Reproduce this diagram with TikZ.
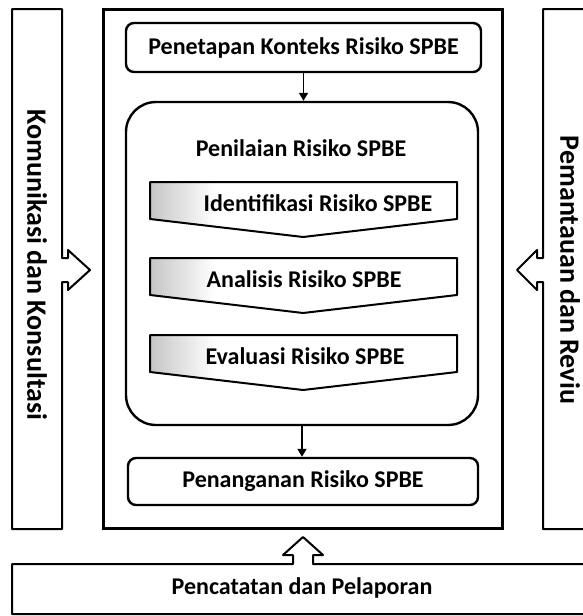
\documentclass[tikz,border=0pt]{standalone}
\usepackage{fontspec}
\setmainfont{Carlito}
\usetikzlibrary{arrows.meta}
\tikzset{
  sidebox/.style={draw, line width=2pt, line join=round, fill=white},
  mainbox/.style={draw, line width=3pt, inner sep=0pt},
  rbox/.style={draw, line width=2.4pt, rounded corners=8pt, inner sep=0pt},
  chev/.style={draw, line width=2pt, line join=round},
  flow/.style={line width=1.6pt, -{Triangle[width=9pt,length=8pt]}},
  lbl/.style={font=\bfseries\fontsize{24}{28}\selectfont, inner sep=0pt},
  sidelbl/.style={font=\bfseries\fontsize{28}{32}\selectfont, inner sep=0pt, rotate=-90}
}
\begin{document}
\begin{tikzpicture}[x=1pt,y=-1pt]
\useasboundingbox (0,0) rectangle (583,616);
\clip (0,0) rectangle (583,616);
\fill[white] (0,0) rectangle (583,616);

% left side box with arrow
\draw[sidebox] (12,9) -- (62,9) -- (62,258) -- (68,258) -- (68,250) -- (90,270) -- (68,290) -- (68,282) -- (62,282) -- (62,529) -- (12,529) -- cycle;
\node[sidelbl] (kom) at (37,265) {Komunikasi dan Konsultasi};

% right side box with arrow
\draw[sidebox] (600,9) -- (543,9) -- (543,258) -- (537,258) -- (537,250) -- (517,270) -- (537,290) -- (537,282) -- (543,282) -- (543,529) -- (600,529);
\node[sidelbl] (pem) at (570,270) {Pemantauan dan Reviu};

% bottom box with arrow
\draw[sidebox] (12,564) -- (293,564) -- (293,555) -- (283,555) -- (303,537) -- (323,555) -- (313,555) -- (313,564) -- (600,564) -- (600,614) -- (12,614) -- cycle;
\node[lbl] (pen2) at (302,588) {Pencatatan dan Pelaporan};

% main box
\node[mainbox, minimum width=399pt, minimum height=519pt] (main) at (302.5,268.5) {};

% Penetapan
\node[rbox, lbl, minimum width=355pt, minimum height=49pt] (pen) at (303.5,47.5) {Penetapan Konteks Risiko SPBE};

% Penilaian
\node[draw, line width=2.4pt, rounded corners=30pt, minimum width=352pt, minimum height=323pt] (nil) at (302,263.5) {};
\node[lbl] (niltitle) at (301,148) {Penilaian Risiko SPBE};

% Penanganan
\node[rbox, lbl, minimum width=350pt, minimum height=47pt] (pnn) at (303,481.5) {Penanganan Risiko SPBE};

% chevrons
\foreach \T/\nm/\txt/\cx in {182/idf/Identifikasi Risiko SPBE/318, 258/ana/Analisis Risiko SPBE/304, 335/eva/Evaluasi Risiko SPBE/305}{
  \begin{scope}
    \clip (150,\T) -- (457,\T) -- (457,\T+37) -- (303,\T+55) -- (150,\T+37) -- cycle;
    \fill[white] (150,\T) rectangle (457,\T+55);
    \shade[left color=gray!45, right color=white] (150,\T) rectangle (215,\T+55);
  \end{scope}
  \draw[chev] (150,\T) -- (457,\T) -- (457,\T+37) -- (303,\T+55) -- (150,\T+37) -- cycle;
  \node[lbl] (\nm) at (\cx,\T+21) {\txt};
}

% connectors
\draw[flow] (pen.south) -- (pen.south |- nil.north);
\draw[flow] (nil.south) -- (nil.south |- pnn.north);
\end{tikzpicture}
\end{document}
